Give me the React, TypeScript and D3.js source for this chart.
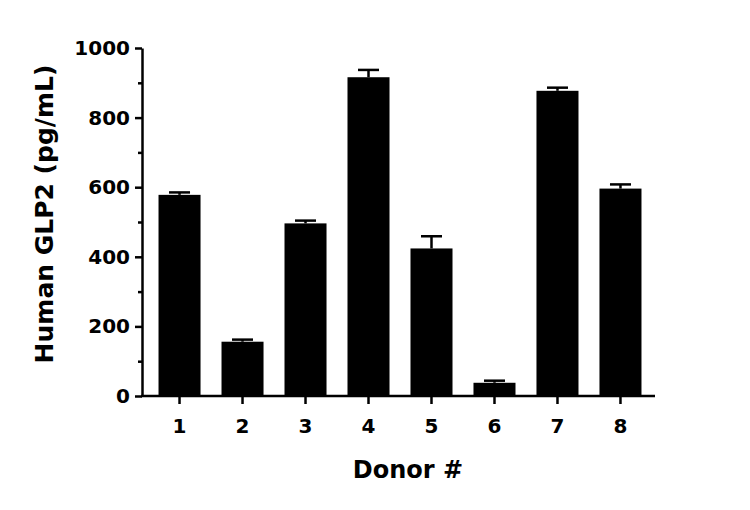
import * as React from 'react';
import { scaleBand, scaleLinear, select, axisBottom, axisLeft, range, format } from 'd3';

const donors = ['1', '2', '3', '4', '5', '6', '7', '8'];
const means = [578, 156, 496, 916, 424, 38, 877, 596];
const errors = [7, 6, 8, 21, 35, 6, 9, 12];
const yTicks = [0, 200, 400, 600, 800, 1000];

const W = 750;
const H = 510;
const font = "'DejaVu Sans', sans-serif";

const App = () => {
    const gRef = React.useRef<SVGGElement>(null);

    const x = scaleBand().domain(donors).range([148, 652]).paddingInner(0.333).paddingOuter(0.167);
    const y = scaleLinear().domain([0, 1000]).range([396, 48]);

    React.useEffect(() => {
        if (!gRef.current) return;
        const g = select(gRef.current);
        g.selectAll('*').remove();

        // minor ticks
        g.append('g')
            .attr('transform', 'translate(142,0)')
            .call(axisLeft(y).tickValues(range(100, 1000, 200)).tickSize(4).tickFormat(() => '') as any)
            .call(s => s.select('.domain').remove())
            .selectAll('line').attr('stroke', '#000').attr('stroke-width', 2.5);

        const ya = g.append('g')
            .attr('transform', 'translate(142,0)')
            .call(axisLeft(y).tickValues(yTicks).tickSize(7).tickPadding(5).tickSizeOuter(0).tickFormat(format('d')) as any);
        ya.select('.domain').attr('stroke', '#000').attr('stroke-width', 2.5);
        ya.selectAll('line').attr('stroke', '#000').attr('stroke-width', 2.5);
        ya.selectAll('text').attr('fill', '#000').style('font-size', '20px').style('font-weight', 'bold').style('font-family', font);

        const xa = g.append('g')
            .attr('transform', 'translate(0,396)')
            .call(axisBottom(x).tickSize(8).tickPadding(15).tickSizeOuter(0) as any);
        xa.select('.domain').attr('d', 'M141,0H655').attr('stroke', '#000').attr('stroke-width', 2.5);
        xa.selectAll('line').attr('stroke', '#000').attr('stroke-width', 2.5);
        xa.selectAll('text').attr('fill', '#000').style('font-size', '20px').style('font-weight', 'bold').style('font-family', font);

        const bw = x.bandwidth();

        // error bars (upper only)
        const eb = g.append('g').selectAll('g').data(donors).join('g');
        eb.append('line')
            .attr('x1', d => x(d)! + bw / 2).attr('x2', d => x(d)! + bw / 2)
            .attr('y1', (d, i) => y(means[i])).attr('y2', (d, i) => y(means[i] + errors[i]))
            .attr('stroke', '#000').attr('stroke-width', 2.5);
        eb.append('line')
            .attr('x1', d => x(d)! + bw / 4).attr('x2', d => x(d)! + bw * 3 / 4)
            .attr('y1', (d, i) => y(means[i] + errors[i])).attr('y2', (d, i) => y(means[i] + errors[i]))
            .attr('stroke', '#000').attr('stroke-width', 2.5);

        g.append('g').selectAll('rect').data(donors).join('rect')
            .attr('x', d => x(d)!)
            .attr('width', bw)
            .attr('y', (d, i) => y(means[i]))
            .attr('height', (d, i) => y(0) - y(means[i]))
            .attr('fill', '#000');
    }, []);

    return (
        <svg width={W} height={H} style={{ position: 'absolute', left: 0, top: 0, background: '#fff' }}>
            <g ref={gRef} />
            <text x={408} y={478} textAnchor="middle" fontFamily={font} fontWeight="bold" fontSize={24} fill="#000">Donor #</text>
            <text transform="translate(53,214) rotate(-90)" textAnchor="middle" fontFamily={font} fontWeight="bold" fontSize={25} fill="#000">Human GLP2 (pg/mL)</text>
        </svg>
    );
};

export default App;
